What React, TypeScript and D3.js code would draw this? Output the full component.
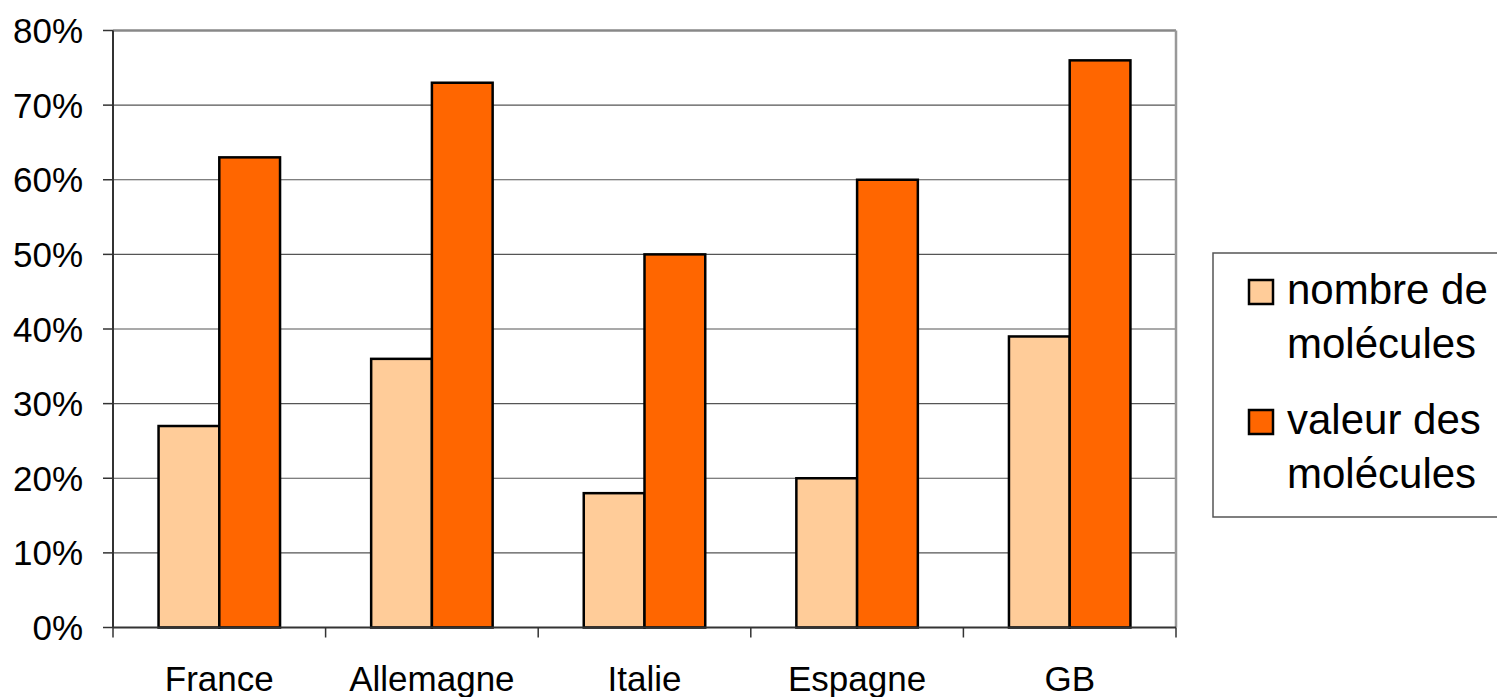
import React from 'react';
import * as d3 from 'd3';

const categories = ['France', 'Allemagne', 'Italie', 'Espagne', 'GB'];
const nombreMolecules = [27, 36, 18, 20, 39];
const valeurMolecules = [63, 73, 50, 60, 76];
const yTicks = [0, 10, 20, 30, 40, 50, 60, 70, 80];
const seriesNames = [['nombre de', 'molécules'], ['valeur des', 'molécules']];
const seriesColors = ['#FFCC99', '#FF6600'];

const W = 1497;
const H = 697;
const margin = { left: 113, right: 321, top: 30.5, bottom: 69.5 };
const font = '"Liberation Sans", Arial, sans-serif';

const App: React.FC = () => {
  const plotW = W - margin.left - margin.right;
  const plotH = H - margin.top - margin.bottom;

  const x = d3.scaleBand<string>().domain(categories).range([0, plotW]).paddingInner(0).paddingOuter(0);
  // bar width : gap = 1 : 1.5 (two bars per group)
  const inner = d3.scaleBand<number>().domain([0, 1]).range([0, x.bandwidth()]).paddingOuter(0.75).paddingInner(0);
  const y = d3.scaleLinear().domain([0, 80]).range([plotH, 0]);

  const series = [nombreMolecules, valeurMolecules];

  return (
    <svg width={W} height={H} style={{ position: 'absolute', left: 0, top: 0, background: '#fff' }} fontFamily={font}>
      <g transform={`translate(${margin.left},${margin.top})`}>
        {/* gridlines */}
        {yTicks.filter(t => t > 0 && t < 80).map(t => (
          <line key={t} x1={0} x2={plotW} y1={y(t)} y2={y(t)} stroke="#555" strokeWidth={1.2} />
        ))}
        {/* plot border top / right */}
        <line x1={0} x2={plotW} y1={y(80)} y2={y(80)} stroke="#888" strokeWidth={2.5} />
        <line x1={plotW} x2={plotW} y1={y(80)} y2={plotH} stroke="#999" strokeWidth={2.5} />

        {/* bars */}
        {series.map((vals, si) =>
          categories.map((c, ci) => (
            <rect
              key={`${si}-${c}`}
              x={(x(c) ?? 0) + (inner(si) ?? 0)}
              y={y(vals[ci])}
              width={inner.bandwidth()}
              height={plotH - y(vals[ci])}
              fill={seriesColors[si]}
              stroke="#000"
              strokeWidth={2.5}
            />
          ))
        )}

        {/* y axis */}
        <line x1={0} x2={0} y1={y(80)} y2={plotH} stroke="#333" strokeWidth={2} />
        {yTicks.map(t => (
          <g key={t} transform={`translate(0,${y(t)})`}>
            <line x1={-10} x2={0} stroke="#333" strokeWidth={1.5} />
            <text x={-30} dy="0.36em" textAnchor="end" fontSize={35} fill="#000">{t}%</text>
          </g>
        ))}

        {/* x axis */}
        <line x1={0} x2={plotW} y1={plotH} y2={plotH} stroke="#333" strokeWidth={2} />
        {categories.concat(['']).map((c, i) => (
          <line key={i} x1={x.step() * i} x2={x.step() * i} y1={plotH} y2={plotH + 10} stroke="#333" strokeWidth={1.5} />
        ))}
        {categories.map(c => (
          <text key={c} x={(x(c) ?? 0) + x.bandwidth() / 2} y={plotH + 63} textAnchor="middle" fontSize={35} fill="#000">{c}</text>
        ))}
      </g>

      {/* legend */}
      <g>
        <rect x={1213} y={253} width={300} height={264} fill="#fff" stroke="#555" strokeWidth={1.5} />
        {seriesNames.map((lines, i) => {
          const top = 280 + i * 130;
          return (
            <g key={i}>
              <rect x={1249} y={top} width={24} height={24} fill={seriesColors[i]} stroke="#000" strokeWidth={2.5} />
              {lines.map((l, j) => (
                <text key={j} x={1287} y={top + 23.5 + j * 54} fontSize={42} fill="#000">{l}</text>
              ))}
            </g>
          );
        })}
      </g>
    </svg>
  );
};

export default App;
